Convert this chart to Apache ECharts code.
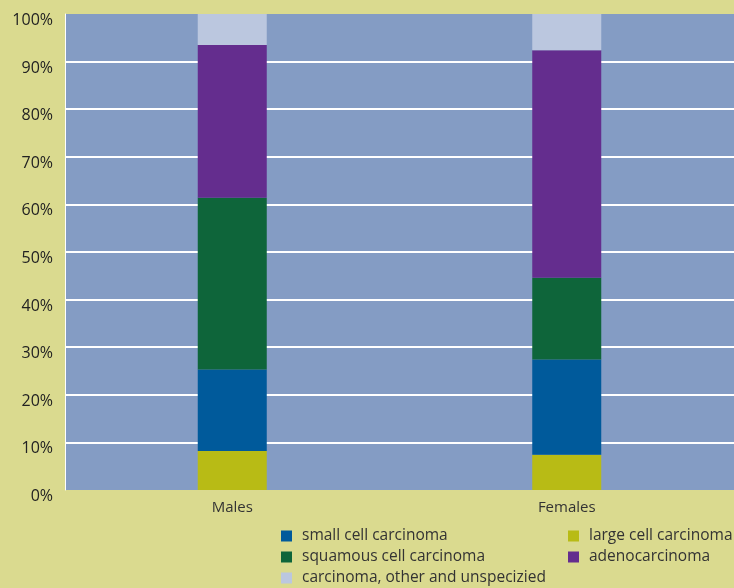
<!DOCTYPE html>
<html><head><meta charset="utf-8">
<script src="https://cdn.jsdelivr.net/npm/echarts@6/dist/echarts.min.js"></script>
<style>html,body{margin:0;padding:0;background:#DADA8F}#c{width:734px;height:588px}</style>
</head><body><div id="c"></div>
<script>
const categories = ['Males', 'Females'];
const largeCell = [8.2, 7.4];
const smallCell = [17.1, 20.0];
const squamous = [36.1, 17.2];
const adeno = [32.1, 47.8];
const other = [6.5, 7.6];
const yTicks = ['0%','10%','20%','30%','40%','50%','60%','70%','80%','90%','100%'];

const names = {
  small: 'small cell carcinoma',
  large: 'large cell carcinoma',
  squam: 'squamous cell carcinoma',
  adeno: 'adenocarcinoma',
  other: 'carcinoma, other and unspecizied'
};
const colors = {
  small: '#005A9B', large: '#B8BB15', squam: '#0E653A', adeno: '#642D8E', other: '#BBC7DF'
};
function s(key, data) {
  return { name: names[key], type: 'bar', stack: 'a', data: data, barWidth: 69,
    itemStyle: { color: colors[key] } };
}
const chart = echarts.init(document.getElementById('c'));
const legendText = { fontFamily: 'Open Sans', fontSize: 15.5, color: '#333', padding: [0, 0, 0, 5] };
function lg(key, left, cy) {
  return { left: left, top: cy - 10, height: 20, orient: 'horizontal', itemWidth: 11, itemHeight: 11,
    icon: 'rect', textStyle: legendText, padding: 0, data: [names[key]] };
}
chart.setOption({
  backgroundColor: '#DADA8F',
  animation: false,
  grid: { left: 65, right: 0, top: 14, bottom: 98, show: true, backgroundColor: '#849CC4', borderWidth: 0 },
  xAxis: { type: 'category', data: categories,
    axisLine: { show: false }, axisTick: { show: false },
    axisLabel: { fontFamily: 'Open Sans', fontSize: 15, color: '#333', margin: 10 } },
  yAxis: { type: 'value', min: 0, max: 100, interval: 10,
    axisLine: { show: true, lineStyle: { color: '#ffffff', width: 1 } },
    axisTick: { show: false },
    splitLine: { show: true, showMinLine: false, showMaxLine: false, lineStyle: { color: '#ffffff', width: 2 } },
    axisLabel: { fontFamily: 'Open Sans', fontSize: 16, color: '#222', margin: 12,
      verticalAlign: 'top', lineHeight: 13,
      formatter: v => yTicks[Math.round(v / 10)] } },
  legend: [
    lg('small', 281, 538),
    lg('squam', 281, 559),
    lg('other', 281, 580),
    lg('large', 568, 538),
    lg('adeno', 568, 559)
  ],
  series: [
    s('large', largeCell),
    s('small', smallCell),
    s('squam', squamous),
    s('adeno', adeno),
    s('other', other)
  ]
});
</script></body></html>
